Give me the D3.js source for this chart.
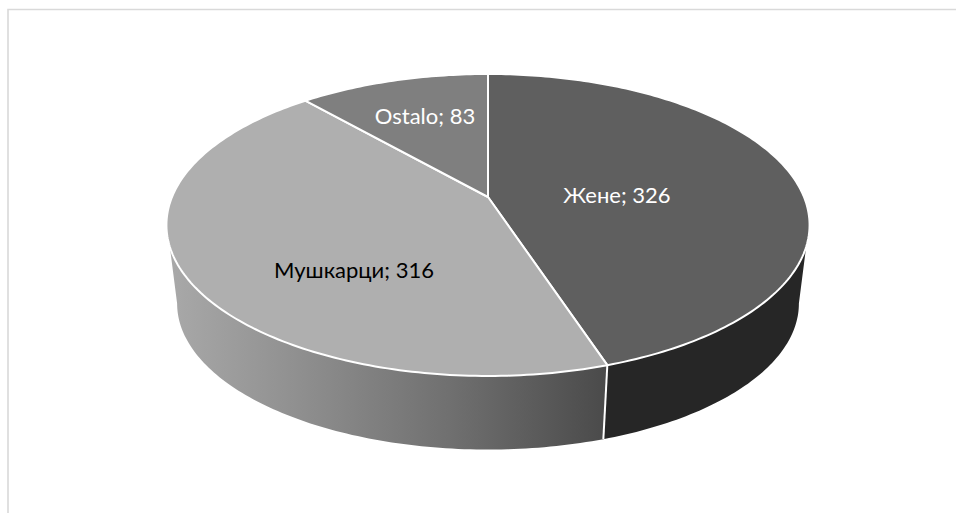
<!DOCTYPE html>
<html><head><meta charset="utf-8">
<script src="https://cdnjs.cloudflare.com/ajax/libs/d3/7.8.5/d3.min.js"></script>
<style>html,body{margin:0;padding:0;background:#fff}svg{display:block}text{font-family:Lato,"Open Sans",sans-serif}</style>
</head><body><svg id="c" width="956" height="513"></svg>
<script>
const categories = ["Жене", "Мушкарци", "Ostalo"];
const values = [326, 316, 83];
const topColors = ["#5f5f5f", "#afafaf", "#7f7f7f"];
const labelColors = ["#ffffff", "#000000", "#ffffff"];

const W = 956, H = 513;
const svg = d3.select("#c");
// chart frame
svg.append("path").attr("d", `M8,${H}V9.5H${W}`).attr("fill", "none").attr("stroke", "#d9d9d9").attr("stroke-width", 1.6);

const pie = d3.pie().sort(null).startAngle(0).endAngle(2 * Math.PI);
const arcs = pie(values).map((d, i) => ({...d, i}));

// perspective projection of the pie plane
const k = 0.1853;
function project(plane, a, r = 1) {
  const u = r * Math.sin(a), v = -r * Math.cos(a), w = 1 - k * v;
  return [plane.x + plane.sx * u / w, plane.y + plane.sy * v / w];
}
const topPlane = {x: 488, y: 197, sx: 316, sy: 145.8};
const botPlane = {x: 488, y: 276.5, sx: 305.5, sy: 141};
const line = d3.line();
const arcPts = (plane, a0, a1) => {
  const n = Math.max(2, Math.ceil(Math.abs(a1 - a0) * 60));
  return d3.range(n + 1).map(i => project(plane, a0 + (a1 - a0) * i / n));
};
const rad = d => d * Math.PI / 180;

// walls
const defs = svg.append("defs");
const grad = defs.append("linearGradient").attr("id", "wallL").attr("gradientUnits", "userSpaceOnUse")
  .attr("x1", 168).attr("x2", 607).attr("y1", 0).attr("y2", 0);
[[0, "#a9a9a9"], [0.3, "#8f8f8f"], [0.65, "#6f6f6f"], [1, "#4a4a4a"]].forEach(([o, c]) =>
  grad.append("stop").attr("offset", o).attr("stop-color", c));

const seam = arcs[0].endAngle;
svg.append("path").attr("fill", "#262626")
  .attr("d", line([...arcPts(topPlane, rad(108.8), seam), ...arcPts(botPlane, seam, rad(100.7))]) + "Z");
svg.append("path").attr("fill", "url(#wallL)")
  .attr("d", line([...arcPts(topPlane, seam, rad(251.2)), ...arcPts(botPlane, rad(259.3), seam)]) + "Z");
svg.append("path").attr("fill", "none").attr("stroke", "#fff").attr("stroke-width", 2)
  .attr("d", line([project(topPlane, seam), project(botPlane, seam)]));

// top slices
const center = [topPlane.x, topPlane.y];
svg.selectAll("path.slice").data(arcs).join("path").attr("class", "slice")
  .attr("fill", d => topColors[d.i]).attr("stroke", "#fff").attr("stroke-width", 2).attr("stroke-linejoin", "round")
  .attr("d", d => line([center, ...arcPts(topPlane, d.startAngle, d.endAngle)]) + "Z");

// labels
const labelAt = [[617, 195], [354, 270], [425, 116]];
svg.selectAll("text.lab").data(arcs).join("text").attr("class", "lab")
  .attr("x", d => labelAt[d.i][0]).attr("y", d => labelAt[d.i][1])
  .attr("dy", "0.35em").attr("text-anchor", "middle").attr("font-size", 22)
  .attr("fill", d => labelColors[d.i])
  .text(d => `${categories[d.i]}; ${d.value}`);
</script></body></html>
